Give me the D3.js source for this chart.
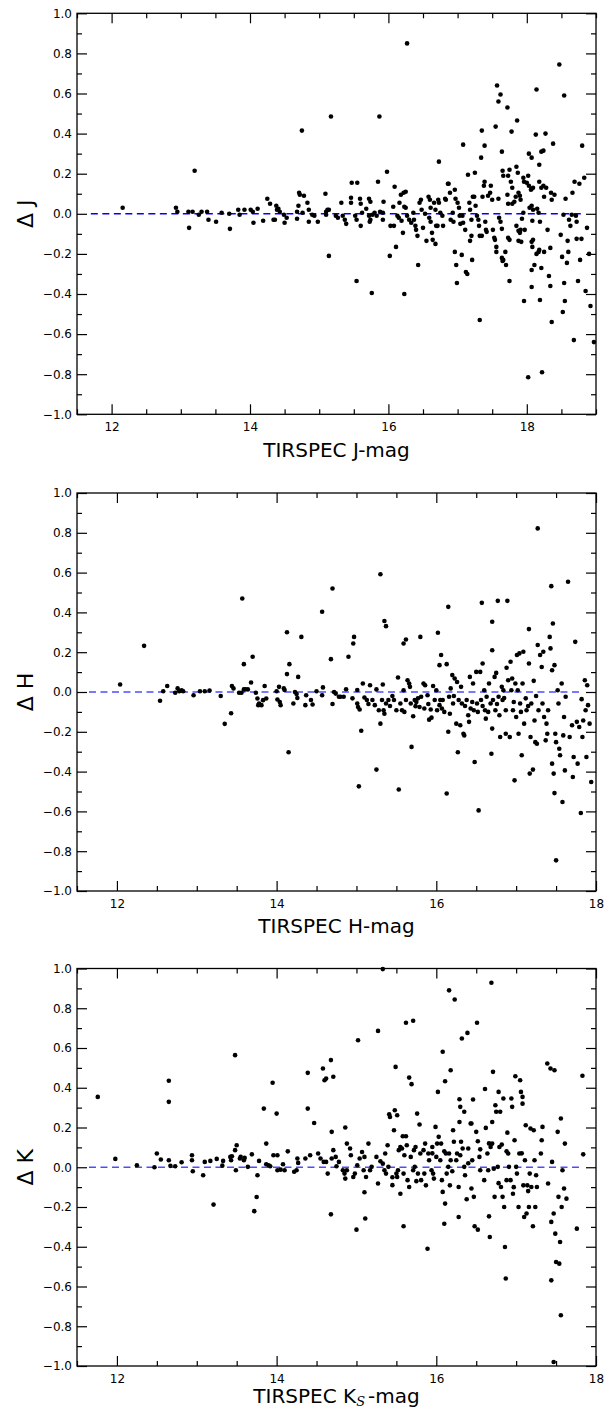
<!DOCTYPE html>
<html><head><meta charset="utf-8">
<script src="https://cdn.jsdelivr.net/npm/d3@7"></script>
<style>body{margin:0;background:#fff}svg{display:block}text{font-family:"DejaVu Sans",sans-serif}</style>
</head><body>
<script>
const xTicks = [12, 14, 16, 18];
const yTicks = [-1.0, -0.8, -0.6, -0.4, -0.2, 0.0, 0.2, 0.4, 0.6, 0.8, 1.0];

const jData = [[12.16,0.03],[12.93,0.03],[12.95,0.01],[13.12,-0.07],[13.2,0.215],[13.11,0.01],[13.17,0.01],[13.26,-0.005],[13.3,0.01],[13.38,0.01],[13.4,-0.03],[13.51,-0.04],[13.59,0.005],[13.7,0],[13.71,-0.075],[13.83,0.02],[13.85,-0.005],[13.92,0.02],[14.01,0.02],[14.04,0.01],[14.05,-0.045],[14.11,0.025],[14.19,-0.035],[14.25,0.075],[14.29,0.05],[14.34,-0.03],[14.36,-0.03],[14.38,0.04],[14.39,0.02],[14.41,0.025],[14.43,0.01],[14.49,-0.005],[14.5,-0.045],[14.53,-0.02],[14.71,0.105],[14.72,0.095],[14.7,0.04],[14.68,0.01],[14.68,-0.025],[14.75,0.415],[14.78,0.09],[14.76,0.005],[14.83,0.055],[14.85,0.02],[14.85,-0.04],[14.9,-0.005],[14.93,-0.01],[14.98,-0.04],[15.09,0.1],[15.1,0.01],[15.12,0.02],[15.14,0.02],[15.1,-0.005],[15.14,-0.21],[15.17,0.485],[15.24,-0.01],[15.27,-0.02],[15.32,0.055],[15.34,-0.01],[15.37,-0.03],[15.39,-0.05],[15.47,0.155],[15.55,0.155],[15.46,0.08],[15.46,0.055],[15.52,-0.01],[15.54,-0.03],[15.54,-0.335],[15.59,0.075],[15.6,0.05],[15.62,0.005],[15.6,-0.06],[15.68,0.025],[15.72,0.075],[15.74,0.06],[15.72,-0.01],[15.74,-0.03],[15.73,-0.04],[15.76,-0.395],[15.77,-0.005],[15.8,0.005],[15.83,-0.01],[15.85,0.16],[15.87,0.485],[15.88,0.01],[15.92,0.005],[15.93,0.06],[15.98,0.21],[15.92,-0.03],[16.02,-0.21],[16.03,-0.06],[16.08,-0.06],[16.07,0.035],[16.09,0.135],[16.11,-0.165],[16.13,-0.01],[16.15,-0.02],[16.16,0.055],[16.18,0.095],[16.19,-0.035],[16.21,-0.095],[16.22,0.105],[16.25,0.11],[16.23,-0.4],[16.23,0.035],[16.25,0.03],[16.27,0.85],[16.27,-0.01],[16.3,-0.03],[16.33,-0.045],[16.36,0.005],[16.37,-0.03],[16.39,-0.06],[16.4,-0.08],[16.42,-0.11],[16.43,-0.255],[16.45,0.055],[16.47,0.07],[16.48,0.02],[16.5,-0.07],[16.53,0],[16.55,-0.135],[16.58,0.085],[16.6,0.07],[16.61,0.03],[16.59,-0.02],[16.61,-0.04],[16.63,-0.095],[16.64,-0.13],[16.66,0.055],[16.68,0.02],[16.69,-0.06],[16.71,-0.06],[16.68,-0.15],[16.72,0.07],[16.73,0.055],[16.75,0.005],[16.73,0.26],[16.78,-0.01],[16.79,-0.06],[16.82,0.075],[16.83,0.07],[16.86,0.15],[16.87,0.15],[16.89,0.105],[16.9,-0.03],[16.93,0.005],[16.94,-0.04],[16.96,0.12],[16.97,0.075],[16.96,-0.19],[16.98,-0.255],[16.99,-0.345],[17.0,0.055],[17.02,0.03],[17.03,-0.01],[17.04,-0.05],[17.06,-0.205],[17.08,0.345],[17.07,-0.01],[17.08,-0.045],[17.11,-0.08],[17.12,-0.29],[17.14,-0.3],[17.15,0.195],[17.25,0.205],[17.17,0.055],[17.18,0.02],[17.2,-0.03],[17.18,-0.135],[17.2,-0.11],[17.21,-0.23],[17.22,0.085],[17.24,0.085],[17.26,0.04],[17.28,-0.01],[17.3,-0.03],[17.31,-0.06],[17.32,-0.53],[17.34,0.28],[17.35,0.415],[17.32,-0.11],[17.35,-0.11],[17.36,0.085],[17.38,0.14],[17.39,0.16],[17.39,0.34],[17.4,-0.04],[17.41,-0.08],[17.42,-0.09],[17.44,0.09],[17.47,0.105],[17.48,0.14],[17.5,0.07],[17.51,-0.08],[17.53,-0.12],[17.54,-0.13],[17.56,-0.165],[17.56,-0.19],[17.55,0.435],[17.57,0.64],[17.59,0.56],[17.62,0.595],[17.64,0.31],[17.59,0.075],[17.6,-0.02],[17.62,-0.04],[17.64,-0.075],[17.65,0.215],[17.66,0.19],[17.64,-0.22],[17.66,-0.23],[17.65,-0.235],[17.69,-0.19],[17.7,-0.255],[17.72,0.53],[17.73,0.19],[17.75,0.22],[17.72,0.095],[17.73,0.05],[17.73,-0.12],[17.75,-0.13],[17.75,-0.335],[17.78,0.41],[17.77,0.16],[17.79,0.13],[17.79,0.05],[17.82,0.06],[17.84,0.085],[17.85,0.235],[17.87,0.205],[17.86,0.465],[17.88,0.105],[17.9,0.09],[17.91,0.07],[17.85,-0.06],[17.88,-0.085],[17.9,-0.095],[17.91,-0.08],[17.88,-0.135],[17.92,-0.14],[17.93,-0.025],[17.95,0.005],[17.95,0.18],[17.96,0.16],[17.96,-0.435],[17.97,-0.08],[18.0,0.155],[18.02,0.19],[18.03,0.14],[18.02,-0.815],[18.03,0.3],[18.07,0.28],[18.06,0.12],[18.07,0.125],[18.09,0.13],[18.04,0.03],[18.07,0.04],[18.09,0.02],[18.08,-0.035],[18.09,-0.13],[18.07,-0.14],[18.08,-0.165],[18.07,-0.28],[18.07,-0.365],[18.13,0.395],[18.14,0.62],[18.11,-0.255],[18.14,-0.2],[18.15,0.025],[18.17,0.005],[18.17,-0.19],[18.18,-0.18],[18.18,0.245],[18.21,0.31],[18.24,0.315],[18.18,0.16],[18.21,0.13],[18.24,0.14],[18.19,-0.04],[18.19,-0.43],[18.22,-0.79],[18.21,-0.27],[18.25,-0.19],[18.25,0.085],[18.27,0.4],[18.28,0.13],[18.3,-0.08],[18.32,-0.31],[18.34,-0.36],[18.34,-0.17],[18.35,0.105],[18.36,0.07],[18.36,-0.54],[18.38,0.35],[18.4,0.095],[18.47,0.745],[18.49,-0.105],[18.51,-0.215],[18.52,-0.49],[18.53,-0.005],[18.54,0.59],[18.54,-0.345],[18.55,-0.435],[18.56,0.075],[18.58,-0.245],[18.59,-0.135],[18.6,-0.19],[18.61,-0.03],[18.63,-0.06],[18.65,-0.005],[18.66,0.105],[18.68,-0.63],[18.69,0.16],[18.71,-0.01],[18.72,-0.04],[18.72,-0.125],[18.74,-0.335],[18.76,0.15],[18.77,-0.23],[18.79,-0.125],[18.8,0.34],[18.83,0.18],[18.85,-0.385],[18.87,-0.07],[18.9,-0.2],[18.92,-0.46],[18.97,-0.64]];

const hData = [[12.04,0.038],[12.34,0.232],[12.54,-0.044],[12.58,0.004],[12.63,0.03],[12.76,0.018],[12.78,0.004],[12.81,0.009],[12.73,-0.004],[12.83,0.004],[12.96,-0.016],[13.04,0.004],[13.1,0.004],[13.16,0.007],[13.3,-0.02],[13.35,-0.16],[13.43,-0.107],[13.44,0.03],[13.46,0.018],[13.53,-0.004],[13.56,-0.004],[13.57,0.47],[13.59,0.14],[13.59,0.013],[13.61,0.014],[13.64,0.013],[13.68,0.048],[13.7,0.177],[13.74,-0.004],[13.76,-0.033],[13.77,-0.066],[13.78,-0.058],[13.81,-0.066],[13.83,-0.041],[13.85,0.03],[13.87,-0.033],[14.0,0.004],[14.01,-0.038],[14.03,0.026],[14.04,-0.05],[14.05,-0.066],[14.13,0.3],[14.09,0.018],[14.1,0.01],[14.13,0.09],[14.16,0.14],[14.15,-0.303],[14.21,-0.058],[14.23,0],[14.25,-0.01],[14.26,-0.03],[14.27,0.076],[14.31,0.277],[14.36,-0.066],[14.37,-0.016],[14.43,-0.04],[14.45,-0.063],[14.5,0.004],[14.57,0.403],[14.57,-0.016],[14.58,0.023],[14.68,0.165],[14.7,0.52],[14.7,-0.06],[14.72,0],[14.74,-0.008],[14.78,-0.024],[14.8,-0.024],[14.84,-0.024],[14.87,0.014],[14.9,0.177],[14.95,-0.032],[14.96,0.244],[14.97,0.277],[15.01,0.01],[15.01,-0.058],[15.02,-0.075],[15.04,-0.088],[15.03,-0.474],[15.06,-0.195],[15.08,0.043],[15.1,-0.028],[15.13,-0.04],[15.17,0.034],[15.2,-0.04],[15.23,-0.066],[15.25,0.013],[15.25,-0.39],[15.28,-0.092],[15.3,-0.159],[15.3,0.592],[15.32,-0.04],[15.33,0.038],[15.35,0.357],[15.37,0.331],[15.34,-0.092],[15.35,-0.109],[15.37,-0.058],[15.4,-0.04],[15.47,-0.04],[15.5,-0.092],[15.52,0.073],[15.53,-0.49],[15.55,-0.058],[15.57,-0.092],[15.59,0.244],[15.62,0.264],[15.59,0.009],[15.62,-0.04],[15.64,0.059],[15.66,0.043],[15.67,0.026],[15.68,-0.058],[15.69,-0.276],[15.71,-0.122],[15.73,-0.04],[15.74,-0.071],[15.77,-0.032],[15.79,-0.075],[15.8,0.277],[15.81,-0.024],[15.84,0.043],[15.85,-0.083],[15.86,0.034],[15.89,-0.016],[15.91,-0.139],[15.93,-0.088],[15.94,-0.129],[15.96,0.03],[15.98,-0.04],[16.0,0.009],[16.01,-0.092],[16.02,0.298],[16.04,0.135],[16.04,-0.066],[16.05,-0.04],[16.06,0.186],[16.07,-0.083],[16.08,-0.04],[16.13,0.14],[16.15,0.428],[16.13,-0.51],[16.15,-0.2],[16.16,-0.024],[16.17,-0.109],[16.18,0.018],[16.2,0.085],[16.21,-0.058],[16.23,0.068],[16.25,-0.159],[16.26,0.05],[16.27,-0.303],[16.28,-0.04],[16.3,-0.167],[16.31,0.026],[16.32,-0.058],[16.34,-0.21],[16.35,-0.218],[16.38,-0.04],[16.4,-0.117],[16.41,-0.15],[16.42,0.076],[16.43,-0.083],[16.46,0.043],[16.47,-0.092],[16.48,-0.352],[16.5,0.101],[16.51,-0.058],[16.52,-0.1],[16.53,-0.595],[16.55,0.101],[16.56,-0.04],[16.57,0.448],[16.58,0.143],[16.6,0.009],[16.61,-0.092],[16.62,-0.134],[16.63,-0.024],[16.66,0.043],[16.68,-0.058],[16.7,0.21],[16.7,0.353],[16.7,-0.184],[16.69,-0.31],[16.71,-0.04],[16.73,0.076],[16.74,-0.092],[16.75,0.096],[16.77,0.458],[16.78,-0.024],[16.79,-0.117],[16.8,-0.226],[16.82,0.026],[16.83,-0.04],[16.84,0.009],[16.87,-0.092],[16.87,-0.21],[16.88,0.122],[16.89,0.458],[16.9,0.059],[16.92,-0.226],[16.93,0.152],[16.94,0.009],[16.95,0.068],[16.96,-0.092],[16.98,-0.444],[16.99,0.043],[17.0,-0.126],[17.01,0.186],[17.02,0.009],[17.03,-0.21],[17.04,0.194],[17.05,-0.058],[17.07,-0.318],[17.08,0.043],[17.09,0.202],[17.1,-0.159],[17.12,-0.032],[17.13,-0.092],[17.16,0.316],[17.16,0.143],[17.17,-0.41],[17.18,-0.226],[17.19,-0.058],[17.21,-0.39],[17.22,0.056],[17.23,-0.143],[17.24,-0.252],[17.26,-0.26],[17.27,0.822],[17.27,0.236],[17.28,-0.092],[17.3,0.186],[17.32,0.126],[17.33,-0.058],[17.34,0.202],[17.35,-0.126],[17.37,-0.243],[17.38,-0.159],[17.39,-0.21],[17.4,-0.092],[17.42,0.277],[17.43,0.219],[17.44,0.532],[17.45,0.109],[17.45,-0.36],[17.46,0.344],[17.47,-0.41],[17.48,-0.508],[17.48,0.135],[17.49,-0.21],[17.5,-0.252],[17.5,-0.846],[17.52,0.009],[17.53,-0.058],[17.54,-0.285],[17.55,-0.318],[17.57,0.043],[17.58,-0.553],[17.59,-0.218],[17.6,-0.126],[17.61,-0.394],[17.62,-0.024],[17.65,0.554],[17.67,-0.226],[17.7,-0.167],[17.71,-0.427],[17.72,-0.327],[17.74,0.252],[17.76,-0.15],[17.77,-0.36],[17.79,-0.176],[17.81,-0.608],[17.82,-0.036],[17.83,-0.226],[17.84,-0.143],[17.86,0.059],[17.87,-0.092],[17.88,-0.327],[17.89,0.034],[17.9,-0.066],[17.92,-0.159],[17.94,-0.452],[15.15,-0.06],[15.42,-0.07],[15.45,-0.02],[15.6,-0.1],[15.75,-0.05],[15.9,-0.06],[16.1,-0.1],[16.22,-0.02],[16.36,-0.07],[16.45,-0.05],[16.58,-0.07],[16.65,-0.1],[16.76,-0.06],[16.85,-0.03],[16.97,-0.05],[17.06,-0.1],[17.15,-0.07],[17.25,-0.02]];

const kData = [[11.76,0.354],[11.98,0.042],[12.25,0.01],[12.47,0],[12.5,0.069],[12.55,0.039],[12.65,0.435],[12.65,0.329],[12.65,0.035],[12.67,0.007],[12.73,0.005],[12.81,0.025],[12.94,0.06],[12.94,0.035],[12.95,-0.02],[13.08,-0.04],[13.1,0.027],[13.17,0.032],[13.25,0.042],[13.21,-0.188],[13.32,0.008],[13.33,0.032],[13.42,0.052],[13.43,0.035],[13.44,0.055],[13.48,0.564],[13.48,0.086],[13.5,0.111],[13.49,-0.015],[13.54,0.044],[13.55,0.052],[13.59,0.035],[13.6,0.047],[13.64,0.002],[13.69,0.065],[13.72,-0.221],[13.75,-0.15],[13.76,-0.04],[13.78,0.032],[13.84,0.295],[13.87,0.119],[13.87,0.015],[13.9,0.01],[13.92,0.005],[13.95,0.425],[13.96,0.06],[14.01,0.06],[14.0,0.27],[14.01,-0.015],[14.05,-0.012],[14.08,0.015],[14.1,-0.015],[14.14,0.08],[14.22,-0.023],[14.25,-0.015],[14.27,0.022],[14.26,0.044],[14.36,0.044],[14.39,0.475],[14.39,0.295],[14.42,0.06],[14.47,0.223],[14.52,0.069],[14.55,0.044],[14.59,0.027],[14.62,0.027],[14.64,-0.032],[14.58,0.497],[14.6,0.438],[14.62,0.446],[14.68,0.539],[14.71,0.455],[14.69,0.178],[14.68,-0.237],[14.69,0.044],[14.71,0.086],[14.74,0.052],[14.75,0.005],[14.78,0.027],[14.83,-0.015],[14.85,-0.032],[14.86,-0.057],[14.88,-0.015],[14.86,0.2],[14.88,0.119],[14.92,0.094],[14.93,0.06],[14.96,-0.049],[14.98,-0.032],[15.01,0.01],[15.0,-0.314],[15.02,0.639],[15.04,0.044],[15.07,0.077],[15.09,-0.015],[15.1,0.052],[15.12,-0.049],[15.1,-0.126],[15.11,-0.258],[15.15,0.119],[15.17,-0.015],[15.19,0.002],[15.25,0.052],[15.27,-0.082],[15.27,0.686],[15.33,0.997],[15.33,0.018],[15.35,-0.015],[15.36,0.069],[15.37,-0.032],[15.4,0.002],[15.39,0.111],[15.41,0.267],[15.42,0.253],[15.45,-0.09],[15.47,0.186],[15.48,0.287],[15.49,0.505],[15.51,0.262],[15.5,-0.032],[15.51,-0.049],[15.52,-0.015],[15.53,0.086],[15.55,0.102],[15.55,-0.133],[15.57,0.094],[15.58,0.156],[15.59,-0.297],[15.59,-0.032],[15.62,0.727],[15.62,0.156],[15.63,0.111],[15.64,-0.065],[15.66,0.451],[15.66,-0.099],[15.69,0.418],[15.71,0.737],[15.68,0.052],[15.71,-0.015],[15.72,0.086],[15.73,0.002],[15.74,0.102],[15.76,0.27],[15.77,-0.032],[15.79,0.215],[15.8,0.069],[15.81,-0.065],[15.84,0.086],[15.85,-0.032],[15.86,0.119],[15.87,-0.091],[15.89,-0.41],[15.9,0.069],[15.91,0.035],[15.94,-0.015],[15.95,0.102],[15.96,-0.032],[15.97,-0.057],[15.99,0.203],[16.0,0.052],[16.01,0.119],[16.02,0.379],[16.03,0.153],[16.05,0.035],[16.06,0.119],[16.07,-0.065],[16.08,0.581],[16.08,-0.124],[16.1,-0.284],[16.11,0.433],[16.11,-0.183],[16.12,0.069],[16.13,-0.032],[16.15,0.002],[16.16,0.069],[16.17,-0.091],[16.18,0.035],[16.18,0.488],[16.16,0.89],[16.21,0.186],[16.22,0.128],[16.23,0.844],[16.25,0.035],[16.26,0.069],[16.28,-0.099],[16.28,-0.25],[16.29,0.342],[16.29,0.228],[16.3,0.304],[16.31,0.128],[16.32,0.648],[16.33,0.094],[16.35,0.279],[16.35,0.002],[16.36,-0.04],[16.38,-0.161],[16.39,0.676],[16.4,0.094],[16.43,0.22],[16.44,-0.107],[16.44,0.22],[16.45,0.035],[16.46,0.341],[16.47,-0.149],[16.48,-0.297],[16.5,0.178],[16.51,0.727],[16.52,0.131],[16.52,-0.314],[16.54,0.052],[16.55,-0.015],[16.6,-0.065],[16.61,0.394],[16.62,0.198],[16.64,0.069],[16.65,-0.015],[16.66,-0.247],[16.67,-0.351],[16.68,0.102],[16.69,0.928],[16.7,0.228],[16.7,0.119],[16.71,0.48],[16.72,-0.007],[16.73,-0.149],[16.74,0.312],[16.75,0.279],[16.77,0.002],[16.78,0.379],[16.79,0.102],[16.8,0.279],[16.81,-0.099],[16.82,0.114],[16.83,-0.149],[16.84,0.346],[16.85,-0.2],[16.86,-0.401],[16.87,-0.56],[16.88,-0.065],[16.89,0.174],[16.9,0.069],[16.91,0.002],[16.93,-0.065],[16.94,0.346],[16.95,0.304],[16.96,-0.133],[16.98,0.136],[16.99,0.458],[17.0,0.002],[17.01,-0.032],[17.03,-0.2],[17.04,0.069],[17.05,0.438],[17.06,0.379],[17.08,0.354],[17.08,0.32],[17.09,-0.091],[17.1,-0.25],[17.11,0.035],[17.12,0.211],[17.13,-0.233],[17.14,-0.091],[17.16,-0.2],[17.17,-0.032],[17.18,0.195],[17.19,-0.099],[17.21,-0.297],[17.22,0.186],[17.23,0.035],[17.24,-0.2],[17.25,-0.04],[17.26,-0.099],[17.31,0.069],[17.32,0.136],[17.33,0.203],[17.39,0.522],[17.4,-0.082],[17.43,0.497],[17.44,-0.275],[17.44,-0.569],[17.45,0.027],[17.47,-0.233],[17.48,0.488],[17.49,-0.334],[17.5,-0.477],[17.52,0.178],[17.53,-0.149],[17.54,-0.485],[17.55,-0.376],[17.56,-0.745],[17.56,0.245],[17.57,-0.2],[17.58,-0.015],[17.6,-0.107],[17.61,0.119],[17.63,-0.158],[17.47,-0.98],[17.76,-0.309],[17.83,0.46],[17.84,0.065],[15.3,0.03],[15.45,-0.05],[15.6,0.06],[15.75,-0.07],[15.95,0.07],[16.1,0.08],[16.2,-0.02],[16.3,0.06],[16.4,0.02],[16.55,0.09],[16.66,0.12],[16.78,-0.08],[16.88,0.08],[16.97,-0.1],[17.07,0.07],[17.15,-0.12]];

const panels = [
  {data: jData, xDomain: [11.5, 19], top: 13.3, bottom: 414.3, xlab: ["TIRSPEC J-mag"], xlabOff: 43, ylab: "\u0394 J", line: [11.7, 18.8], lineOpacity: 1},
  {data: hData, xDomain: [11.5, 18], top: 493, bottom: 891, xlab: ["TIRSPEC H-mag"], xlabOff: 42, ylab: "\u0394 H", line: [11.65, 17.8], lineOpacity: 0.7},
  {data: kData, xDomain: [11.5, 18], top: 968.5, bottom: 1366, xlab: ["TIRSPEC K", "S", "-mag"], xlabOff: 37, ylab: "\u0394 K", line: [11.65, 17.8], lineOpacity: 0.7}
];

const W = 606, H = 1412, left = 77, right = 596;
const svg = d3.select("body").append("svg").attr("width", W).attr("height", H);
const fmt = v => d3.format(".1f")(v).replace("-", "\u2212");

panels.forEach(p => {
  const x = d3.scaleLinear().domain(p.xDomain).range([left, right]);
  const y = d3.scaleLinear().domain([-1, 1]).range([p.bottom, p.top]);
  const g = svg.append("g");
  const xMinor = d3.range(Math.ceil(p.xDomain[0] * 2) / 2, p.xDomain[1] + 1e-9, 0.5).filter(v => Math.abs(v % 2) > 1e-6);
  const yMinor = d3.range(-0.9, 1.0, 0.2);

  g.append("line").attr("x1", x(p.line[0])).attr("x2", x(p.line[1]))
    .attr("y1", y(0)).attr("y2", y(0))
    .attr("stroke", "#0000ff").attr("stroke-opacity", p.lineOpacity)
    .attr("stroke-width", 1.5).attr("stroke-dasharray", "7,4.5");

  g.append("g").selectAll("circle").data(p.data).join("circle")
    .attr("cx", d => x(d[0])).attr("cy", d => y(d[1])).attr("r", 2.3).attr("fill", "#000");

  const bottomAx = d3.axisBottom(x).tickValues(xTicks).tickSize(-10).tickPadding(8).tickFormat(d3.format("d"));
  const topAx = d3.axisTop(x).tickValues(xTicks).tickSize(-10).tickFormat("");
  const leftAx = d3.axisLeft(y).tickValues(yTicks).tickSize(-10).tickPadding(14).tickFormat(fmt);
  const rightAx = d3.axisRight(y).tickValues(yTicks).tickSize(-10).tickFormat("");
  const bMin = d3.axisBottom(x).tickValues(xMinor).tickSize(-5).tickFormat("");
  const tMin = d3.axisTop(x).tickValues(xMinor).tickSize(-5).tickFormat("");
  const lMin = d3.axisLeft(y).tickValues(yMinor).tickSize(-5).tickFormat("");
  const rMin = d3.axisRight(y).tickValues(yMinor).tickSize(-5).tickFormat("");

  const add = (ax, tr) => {
    const a = g.append("g").attr("transform", tr).call(ax);
    a.select(".domain").remove();
    a.selectAll("line").attr("stroke", "#000").attr("stroke-width", 1.2);
    a.selectAll("text").attr("fill", "#000").style("font-size", "12px").style("font-family", "'DejaVu Sans', sans-serif");
    return a;
  };
  add(bottomAx, `translate(0,${p.bottom})`);
  add(topAx, `translate(0,${p.top})`);
  const la = add(leftAx, `translate(${left},0)`);
  la.selectAll("text").attr("x", -5);
  add(rightAx, `translate(${right},0)`);
  add(bMin, `translate(0,${p.bottom})`);
  add(tMin, `translate(0,${p.top})`);
  add(lMin, `translate(${left},0)`);
  add(rMin, `translate(${right},0)`);

  g.append("rect").attr("x", left).attr("y", p.top).attr("width", right - left).attr("height", p.bottom - p.top)
    .attr("fill", "none").attr("stroke", "#000").attr("stroke-width", 1.3);

  const xl = g.append("text").attr("x", (left + right) / 2).attr("y", p.bottom + p.xlabOff)
    .attr("text-anchor", "middle").style("font-size", "20px").attr("fill", "#000");
  xl.append("tspan").text(p.xlab[0]);
  if (p.xlab.length > 1) {
    xl.append("tspan").text(p.xlab[1]).style("font-size", "13px").style("font-style", "italic")
      .style("font-family", "'DejaVu Serif', serif").attr("dy", 3);
    xl.append("tspan").text(p.xlab[2]).attr("dy", -3).attr("dx", 3);
  }

  g.append("text").attr("transform", `translate(33,${(p.top + p.bottom) / 2}) rotate(-90)`)
    .attr("text-anchor", "middle").style("font-size", "22px").attr("fill", "#000").text(p.ylab);
});
</script>
</body></html>
